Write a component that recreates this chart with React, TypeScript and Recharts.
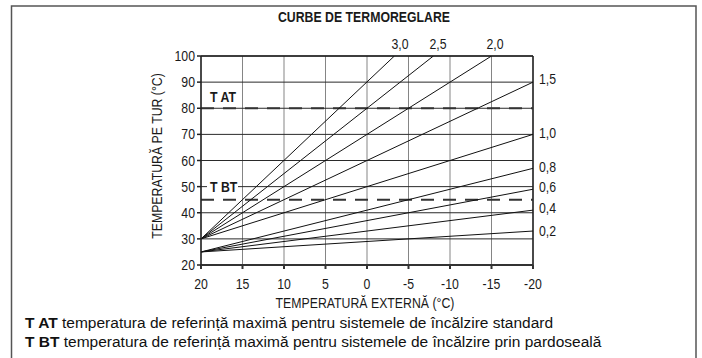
import { LineChart, Line, XAxis, YAxis, CartesianGrid, ReferenceLine } from 'recharts';

// curve endpoints: [outside temp, flow temp]
const curve30 = [{ x: 20, y: 30 }, { x: -3.3, y: 100 }];
const curve25 = [{ x: 20, y: 30 }, { x: -8, y: 100 }];
const curve20 = [{ x: 20, y: 30 }, { x: -15, y: 100 }];
const curve15 = [{ x: 20, y: 30 }, { x: -20, y: 90 }];
const curve10 = [{ x: 20, y: 30 }, { x: -20, y: 70 }];
const curve08 = [{ x: 20, y: 25 }, { x: -20, y: 57 }];
const curve06 = [{ x: 20, y: 25 }, { x: -20, y: 49 }];
const curve04 = [{ x: 20, y: 25 }, { x: -20, y: 41 }];
const curve02 = [{ x: 20, y: 25 }, { x: -20, y: 33 }];

const curves = [curve30, curve25, curve20, curve15, curve10, curve08, curve06, curve04, curve02];

const xTicks = [20, 15, 10, 5, 0, -5, -10, -15, -20];
const yTicks = [20, 30, 40, 50, 60, 70, 80, 90, 100];

const tAT = 80;
const tBT = 45;

// curve names, placed at the top (steep ones) or on the right side
const topLabels = [
  { text: '3,0', x: 400 },
  { text: '2,5', x: 438 },
  { text: '2,0', x: 495 },
];
const rightLabels = [
  { text: '1,5', y: 79 },
  { text: '1,0', y: 133 },
  { text: '0,8', y: 167 },
  { text: '0,6', y: 187 },
  { text: '0,4', y: 208 },
  { text: '0,2', y: 231 },
];

const sans = '"Liberation Sans", Arial, sans-serif';
const squeeze = 0.82; // no Arial Narrow here, so squash Liberation Sans

function NText({ x, y, anchor = 'start', bold = false, rotate = 0, children }: any) {
  return (
    <text
      transform={`translate(${x},${y}) rotate(${rotate}) scale(${squeeze},1)`}
      textAnchor={anchor}
      fontFamily={sans}
      fontSize={15}
      fontWeight={bold ? 'bold' : 'normal'}
      fill="#1a1a1a"
    >
      {children}
    </text>
  );
}

function XTick({ x, y, payload }: any) {
  return <NText x={x} y={y + 18} anchor="middle">{payload.value}</NText>;
}

function YTick({ x, y, payload }: any) {
  return <NText x={x} y={y + 5} anchor="end">{payload.value}</NText>;
}

export default function App() {
  return (
    <div style={{ position: 'absolute', left: 0, top: 0, width: 702, height: 358, background: '#fff' }}>
      <LineChart
        width={702}
        height={358}
        margin={{ top: 56, right: 169, bottom: 63, left: 141 }}
      >
        <CartesianGrid horizontal={false} stroke="#858585" strokeWidth={1} />
        <CartesianGrid vertical={false} stroke="#2a2a2a" strokeWidth={1} />
        <XAxis
          type="number"
          dataKey="x"
          domain={[-20, 20]}
          reversed
          ticks={xTicks}
          height={30}
          tickSize={4}
          stroke="#333"
          strokeWidth={2}
          tick={<XTick />}
          allowDataOverflow
        />
        <YAxis
          type="number"
          domain={[20, 100]}
          ticks={yTicks}
          width={60}
          tickSize={4}
          stroke="#222"
          strokeWidth={1.5}
          tick={<YTick />}
          allowDataOverflow
        />
        <ReferenceLine y={100} stroke="#222" strokeWidth={1.5} />
        <ReferenceLine x={-20} stroke="#222" strokeWidth={1.5} />
        <ReferenceLine y={tAT} stroke="#333" strokeWidth={2} strokeDasharray="13 9" />
        <ReferenceLine y={tBT} stroke="#333" strokeWidth={2} strokeDasharray="13 9" />
        {curves.map((c, i) => (
          <Line
            key={i}
            data={c}
            dataKey="y"
            type="linear"
            stroke="#111"
            strokeWidth={1}
            dot={false}
            activeDot={false}
            isAnimationActive={false}
          />
        ))}
      </LineChart>
      <svg
        width={702}
        height={358}
        style={{ position: 'absolute', left: 0, top: 0, pointerEvents: 'none' }}
      >
        <rect x={11.5} y={6} width={684.5} height={360} fill="none" stroke="#555" strokeWidth={1.5} />
        <NText x={364} y={22} anchor="middle" bold>CURBE DE TERMOREGLARE</NText>
        <NText x={365} y={308} anchor="middle">TEMPERATURĂ EXTERNĂ (°C)</NText>
        <NText x={162} y={156} anchor="middle" rotate={-90}>TEMPERATURĂ PE TUR (°C)</NText>
        {topLabels.map((l) => (
          <NText key={l.text} x={l.x} y={49} anchor="middle">{l.text}</NText>
        ))}
        {rightLabels.map((l) => (
          <NText key={l.text} x={539} y={l.y + 5}>{l.text}</NText>
        ))}
        <NText x={210} y={102} bold>T AT</NText>
        <rect x={207} y={179} width={31} height={16} fill="#fff" />
        <NText x={210} y={192} bold>T BT</NText>
        <text x={25} y={328} fontFamily={sans} fontSize={15.5} fill="#111">
          <tspan fontWeight="bold">T AT</tspan> temperatura de referință maximă pentru sistemele de încălzire standard
        </text>
        <text x={25} y={347} fontFamily={sans} fontSize={15.5} fill="#111">
          <tspan fontWeight="bold">T BT</tspan> temperatura de referință maximă pentru sistemele de încălzire prin pardoseală
        </text>
      </svg>
    </div>
  );
}
